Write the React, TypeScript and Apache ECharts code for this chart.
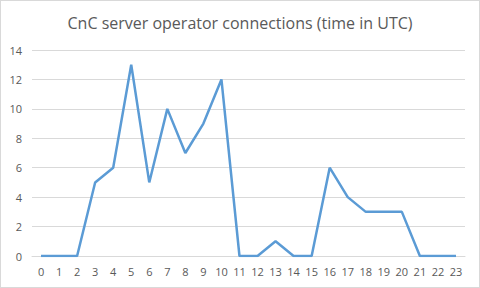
import React, { useEffect, useRef } from "react";
import * as echarts from "echarts";

const hours = ["0","1","2","3","4","5","6","7","8","9","10","11","12","13","14","15","16","17","18","19","20","21","22","23"];
const connections = [0,0,0,5,6,13,5,10,7,9,12,0,0,1,0,0,6,4,3,3,3,0,0,0];
const titleText = "CnC server operator connections (time in UTC)";

export default function App() {
  const ref = useRef<HTMLDivElement>(null);
  useEffect(() => {
    const chart = echarts.init(ref.current!, null, { renderer: "svg" });
    chart.setOption({
      animation: false,
      backgroundColor: "#ffffff",
      title: {
        text: titleText,
        left: "center",
        top: 9,
        textStyle: { fontFamily: "Open Sans", fontSize: 16, fontWeight: "normal", color: "#595959" },
      },
      grid: { left: 31, right: 14, top: 49, bottom: 31, containLabel: false },
      xAxis: {
        type: "category",
        data: hours,
        boundaryGap: true,
        axisLine: { show: true, lineStyle: { color: "#d9d9d9", width: 1 } },
        axisTick: { show: false },
        axisLabel: { color: "#595959", fontFamily: "Open Sans", fontSize: 11, margin: 10, interval: 0 },
      },
      yAxis: {
        type: "value",
        min: 0,
        max: 14,
        interval: 2,
        axisLine: { show: false },
        axisTick: { show: false },
        axisLabel: { color: "#595959", fontFamily: "Open Sans", fontSize: 11, margin: 10 },
        splitLine: { lineStyle: { color: "#d9d9d9", width: 1 } },
      },
      series: [
        {
          type: "line",
          data: connections,
          symbol: "none",
          lineStyle: { color: "#5b9bd5", width: 2.5 },
        },
      ],
    });
    return () => chart.dispose();
  }, []);
  return (
    <div
      ref={ref}
      style={{ position: "fixed", left: 0, top: 0, width: 478, height: 286, border: "1px solid #d9d9d9", background: "#fff" }}
    />
  );
}
